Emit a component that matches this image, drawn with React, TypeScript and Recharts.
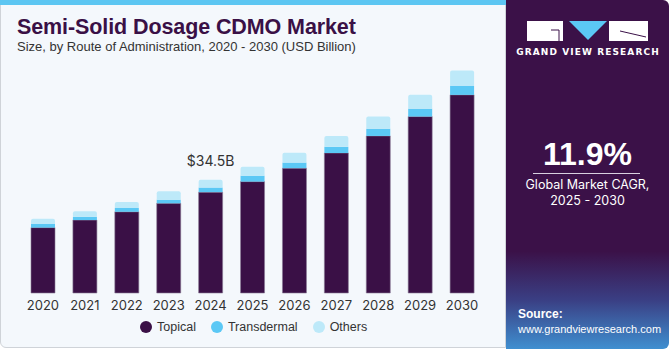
import React from "react"
import { Bar, BarChart, LabelList, XAxis, YAxis } from "recharts"

const years = ["2020", "2021", "2022", "2023", "2024", "2025", "2026", "2027", "2028", "2029", "2030"]
const topical = [19.9, 22.2, 24.7, 27.3, 30.7, 33.9, 38.0, 42.6, 47.8, 53.7, 60.3]
const transdermal = [1.2, 1.0, 1.2, 1.1, 1.4, 1.8, 1.7, 1.9, 2.2, 2.4, 2.8]
const others = [1.5, 1.7, 1.8, 2.6, 2.4, 2.7, 3.0, 3.3, 3.7, 4.2, 4.6]
const highlightYear = "2024"
const highlightLabel = "$34.5B"

const data = years.map((year, i) => ({
  year,
  topical: topical[i],
  transdermal: transdermal[i],
  others: others[i],
}))

const legendItems = [
  { name: "Topical", color: "#3a1046" },
  { name: "Transdermal", color: "#5bc8f5" },
  { name: "Others", color: "#bde9f9" },
]

const font = "Inter, 'Liberation Sans', Arial, sans-serif"
const plain = "'Liberation Sans', Arial, sans-serif"

const TotalLabel = (props: any) => {
  const { x, y, width, index } = props
  if (years[index] !== highlightYear) return null
  return (
    <text x={x + width / 2} y={y - 14} textAnchor="middle" fontSize={14} fill="#333" fontFamily={font}>
      {highlightLabel}
    </text>
  )
}

const Logo = () => (
  <svg width={164} height={60} style={{ position: "absolute", left: 0, top: 0 }}>
    <rect x={21} y={21} width={36} height={20} fill="#fff" />
    <path d="M45 30 H53 V41" stroke="#3b1148" strokeWidth={1} fill="none" />
    <polygon points="63,21 101,21 82,40" fill="#5bc8f5" />
    <rect x={103} y={21} width={39} height={20} fill="#fff" />
    <path d="M114 31 L140 37" stroke="#3b1148" strokeWidth={1} />
    <text x={82} y={55} textAnchor="middle" fontSize={9} fontWeight={700} fill="#fff" letterSpacing={1.1} fontFamily="'DejaVu Sans', sans-serif">
      GRAND VIEW RESEARCH
    </text>
  </svg>
)

export default function App() {
  return (
    <div style={{ position: "absolute", left: 0, top: 0, width: 670, height: 350, background: "#fff", overflow: "hidden" }}>
      <div style={{ position: "absolute", left: 0, top: 0, width: 506, height: 348, background: "#f4f8fc", border: "1px solid #cfd3d8", borderRadius: "0 0 0 6px", boxSizing: "border-box" }} />
      <div style={{ position: "absolute", left: 0, top: 0, width: 506, height: 5, background: "#5cc6f2" }} />
      <div style={{ position: "absolute", left: 17, top: 15, fontSize: 21.5, fontWeight: 900, color: "#3a1046", fontFamily: plain, letterSpacing: -0.1 }}>
        Semi-Solid Dosage CDMO Market
      </div>
      <div style={{ position: "absolute", left: 17, top: 39, fontSize: 13, color: "#333", fontFamily: plain }}>
        Size, by Route of Administration, 2020 - 2030 (USD Billion)
      </div>

      <div style={{ position: "absolute", left: 0, top: 0 }}>
        <BarChart width={506} height={350} data={data} margin={{ top: 63, right: 23, left: 22, bottom: 27 }}>
          <XAxis dataKey="year" axisLine={false} tickLine={false} height={30} tick={{ fontSize: 13, fill: "#333", fontFamily: font }} />
          <YAxis hide domain={[0, 70]} />
          <Bar dataKey="topical" stackId="a" fill="#3a1046" stroke="#8a7a95" strokeWidth={0.6} barSize={24} isAnimationActive={false} />
          <Bar dataKey="transdermal" stackId="a" fill="#5bc8f5" barSize={24} isAnimationActive={false} />
          <Bar dataKey="others" stackId="a" fill="#bde9f9" barSize={24} radius={[2, 2, 0, 0]} isAnimationActive={false}>
            <LabelList dataKey="others" content={<TotalLabel />} />
          </Bar>
        </BarChart>
      </div>

      <div style={{ position: "absolute", left: 140, top: 320, display: "flex", alignItems: "center", fontFamily: plain, fontSize: 12.5, color: "#333" }}>
        {legendItems.map((item) => (
          <div key={item.name} style={{ display: "flex", alignItems: "center", marginRight: 15 }}>
            <span style={{ width: 12, height: 12, borderRadius: 6, background: item.color, marginRight: 5, display: "inline-block" }} />
            {item.name}
          </div>
        ))}
      </div>

      <div style={{ position: "absolute", left: 506, top: 0, width: 163, height: 349, borderRadius: "0 6px 6px 0", overflow: "hidden", background: "linear-gradient(180deg, #3b1148 0%, #3b1148 72%, #3a3f84 86%, #3f8fd0 100%)" }}>
        <Logo />
        <div style={{ position: "absolute", left: 0, width: 163, top: 136, textAlign: "center", fontSize: 32, fontWeight: 700, color: "#fff", fontFamily: plain }}>
          11.9%
        </div>
        <div style={{ position: "absolute", left: 27, top: 173, width: 107, height: 1, background: "#d8d0e0" }} />
        <div style={{ position: "absolute", left: 0, width: 163, top: 177, textAlign: "center", fontSize: 12.5, lineHeight: "16px", color: "#fff", fontFamily: font }}>
          Global Market CAGR,<br />2025 - 2030
        </div>
        <div style={{ position: "absolute", left: 12, top: 307, fontSize: 11, lineHeight: "15px", color: "#fff", fontFamily: plain }}>
          <div style={{ fontWeight: 700, fontSize: 12 }}>Source:</div>
          <div>www.grandviewresearch.com</div>
        </div>
      </div>
    </div>
  )
}
